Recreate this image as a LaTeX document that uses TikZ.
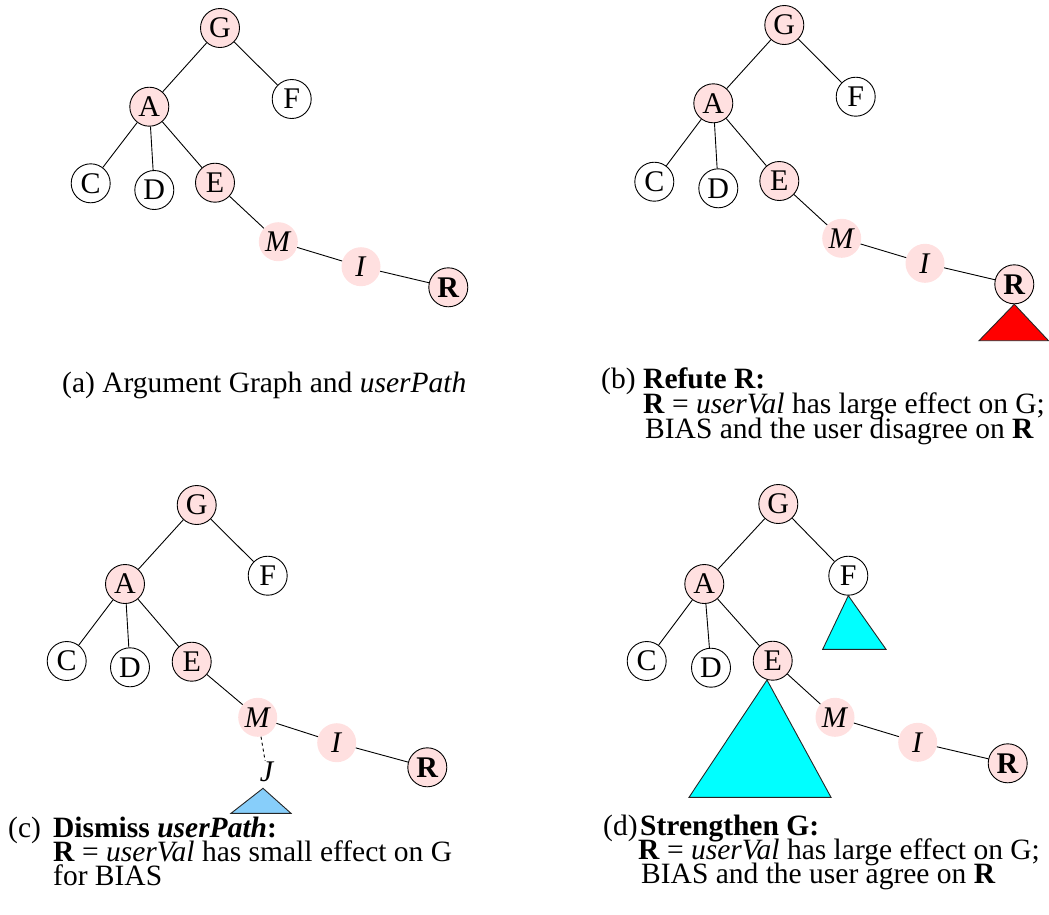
\documentclass[tikz,border=0pt]{standalone}
\usepackage{fontspec}
\setmainfont{Liberation Serif}
\definecolor{pinkfill}{RGB}{255,224,224}
\definecolor{redtri}{RGB}{255,0,0}
\definecolor{cyantri}{RGB}{0,255,255}
\definecolor{bluetri}{RGB}{135,206,250}
\tikzset{
  nodebase/.style={circle, minimum size=39pt, inner sep=0pt, font=\fontsize{30}{25}\selectfont},
  wnode/.style={nodebase, draw=black, line width=0.9pt, fill=white},
  pnode/.style={nodebase, draw=black, line width=0.9pt, fill=pinkfill},
  snode/.style={nodebase, fill=pinkfill},
  edgeline/.style={draw=black, line width=0.9pt},
  trishape/.style={draw=black!85, line width=0.9pt},
  captext/.style={anchor=base west, inner sep=0pt, font=\fontsize{29.5}{25}\selectfont}
}
\begin{document}
\begin{tikzpicture}[x=1pt,y=-1pt]
\useasboundingbox (0,0) rectangle (1049,914);
% ---------- panel a
\node[pnode] (aG) at (220,28) {G};
\node[wnode] (aF) at (291.7,99) {F};
\node[pnode] (aA) at (149.3,106.7) {A};
\node[wnode] (aC) at (90.7,183.3) {C};
\node[wnode] (aD) at (154.3,190) {D};
\node[pnode] (aE) at (215,182.7) {E};
\node[snode] (aM) at (278.3,241.7) {\textit{M}};
\node[snode] (aI) at (361,266.7) {\textit{I}};
\node[pnode] (aR) at (448.3,287.3) {\textbf{R}};
\draw[edgeline] (aG) -- (aA); \draw[edgeline] (aG) -- (aF);
\draw[edgeline] (aA) -- (aC); \draw[edgeline] (aA) -- (aD); \draw[edgeline] (aA) -- (aE);
\draw[edgeline] (aE) -- (aM); \draw[edgeline] (aM) -- (aI); \draw[edgeline] (aI) -- (aR);
% ---------- panel b
\node[pnode] (bG) at (784.3,25) {G};
\node[wnode] (bF) at (855.7,96.7) {F};
\node[pnode] (bA) at (713.3,103.3) {A};
\node[wnode] (bC) at (654.3,181.7) {C};
\node[wnode] (bD) at (718.3,188.3) {D};
\node[pnode] (bE) at (779.3,181) {E};
\node[snode] (bM) at (841.7,238.3) {\textit{M}};
\node[snode] (bI) at (925,263.3) {\textit{I}};
\node[pnode] (bR) at (1014.3,284.3) {\textbf{R}};
\draw[edgeline] (bG) -- (bA); \draw[edgeline] (bG) -- (bF);
\draw[edgeline] (bA) -- (bC); \draw[edgeline] (bA) -- (bD); \draw[edgeline] (bA) -- (bE);
\draw[edgeline] (bE) -- (bM); \draw[edgeline] (bM) -- (bI); \draw[edgeline] (bI) -- (bR);
\draw[trishape, fill=redtri] (bR.south) -- (1048.5,340.7) -- (979,340.7) -- cycle;
% ---------- panel c
\node[pnode] (cG) at (196.7,505) {G};
\node[wnode] (cF) at (267.7,575.7) {F};
\node[pnode] (cA) at (125,584) {A};
\node[wnode] (cC) at (66.7,661) {C};
\node[wnode] (cD) at (130,667.3) {D};
\node[pnode] (cE) at (191.7,661.7) {E};
\node[snode] (cM) at (257.7,717.3) {\textit{M}};
\node[snode] (cI) at (336.7,742.7) {\textit{I}};
\node[pnode] (cR) at (427.3,767.3) {\textbf{R}};
\node[inner sep=1pt, font=\fontsize{30}{25}\selectfont] (cJ) at (267,772) {\textit{J}};
\draw[edgeline] (cG) -- (cA); \draw[edgeline] (cG) -- (cF);
\draw[edgeline] (cA) -- (cC); \draw[edgeline] (cA) -- (cD); \draw[edgeline] (cA) -- (cE);
\draw[edgeline] (cE) -- (cM); \draw[edgeline] (cM) -- (cI); \draw[edgeline] (cI) -- (cR);
\draw[edgeline, dash pattern=on 3pt off 3pt] (cM) -- (cJ);
\draw[trishape, fill=bluetri] (263,788.3) -- (291,813.3) -- (231,813.3) -- cycle;
% ---------- panel d
\node[pnode] (dG) at (778.3,504) {G};
\node[wnode] (dF) at (848.3,575.7) {F};
\node[pnode] (dA) at (704.3,584) {A};
\node[wnode] (dC) at (646.7,661) {C};
\node[wnode] (dD) at (711,667.7) {D};
\node[pnode] (dE) at (772.7,660.7) {E};
\node[snode] (dM) at (835,717.3) {\textit{M}};
\node[snode] (dI) at (917.7,742.3) {\textit{I}};
\node[pnode] (dR) at (1007.7,763.3) {\textbf{R}};
\draw[edgeline] (dG) -- (dA); \draw[edgeline] (dG) -- (dF);
\draw[edgeline] (dA) -- (dC); \draw[edgeline] (dA) -- (dD); \draw[edgeline] (dA) -- (dE);
\draw[edgeline] (dE) -- (dM); \draw[edgeline] (dM) -- (dI); \draw[edgeline] (dI) -- (dR);
\draw[trishape, fill=cyantri] (dF.south) -- (886,649.3) -- (822.7,649.3) -- cycle;
\draw[trishape, fill=cyantri] (767,680) -- (831,797.3) -- (689,797.3) -- cycle;
% ---------- captions
\node[captext] (capa) at (62,392) {(a) Argument Graph and \textit{userPath}};
\node[captext] (capb0) at (601,388) {(b)};
\node[captext] (capb1) at (643,388) {\textbf{Refute R:}};
\node[captext] (capb2) at (643,413) {\textbf{R} = \textit{userVal} has large effect on G;};
\node[captext] (capb3) at (645,438) {BIAS and the user disagree on \textbf{R}};
\node[captext] (capc0) at (8,837) {(c)};
\node[captext] (capc1) at (53,837) {\textbf{Dismiss \textit{userPath}:}};
\node[captext] (capc2) at (53,861) {\textbf{R} = \textit{userVal} has small effect on G};
\node[captext] (capc3) at (53,885) {for BIAS};
\node[captext] (capd0) at (603,835) {(d)};
\node[captext] (capd1) at (640,835) {\textbf{Strengthen G:}};
\node[captext] (capd2) at (638,859) {\textbf{R} = \textit{userVal} has large effect on G;};
\node[captext] (capd3) at (641,883) {BIAS and the user agree on \textbf{R}};
\end{tikzpicture}
\end{document}
